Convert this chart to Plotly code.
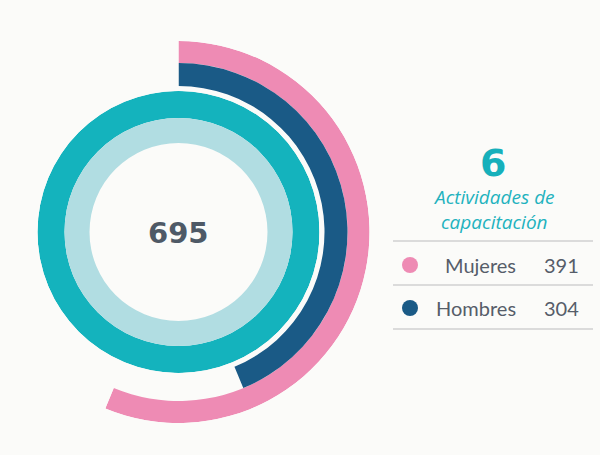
import math
import plotly.graph_objects as go

# ---- data ----
categories = ["Mujeres", "Hombres"]
values = [391, 304]
total = sum(values)
activities = 6
activities_label = ["Actividades de", "capacitación"]

colors = ["#ee8bb4", "#1a5a86"]
teal = "#14b3bd"
light = "#b1dde2"
bg = "#fbfbf9"

W, H = 600, 455
cx, cy = 178.5, 232.0

def px(x):
    return x / W

def py(y):
    return 1 - y / H

fig = go.Figure()

# ---- outer arcs (sector polar) ----
outer_R = 191
bands = [(169, 22), (146, 23)]  # (base, thickness) for Mujeres, Hombres
for cat, v, col, (b, t) in zip(categories, values, colors, bands):
    span = v / total * 360
    fig.add_trace(go.Barpolar(
        r=[t], base=[b], theta=[span / 2], width=[span],
        marker=dict(color=col, line=dict(width=0)),
        name=cat, subplot="polar2", hoverinfo="skip", showlegend=False,
    ))

# ---- inner full rings ----
fig.add_trace(go.Barpolar(r=[27], base=[114], theta=[180], width=[360],
                          marker=dict(color=teal, line=dict(width=0)),
                          subplot="polar", hoverinfo="skip", showlegend=False))
fig.add_trace(go.Barpolar(r=[25], base=[89], theta=[180], width=[360],
                          marker=dict(color=light, line=dict(width=0)),
                          subplot="polar", hoverinfo="skip", showlegend=False))

hidden_radial = dict(visible=False, showgrid=False, showline=False, showticklabels=False, ticks="")
hidden_ang = dict(visible=False, showgrid=False, showline=False, showticklabels=False, ticks="",
                  direction="clockwise", rotation=90)

sec_lo = 90 - values[0] / total * 360
left_ext = outer_R * max(0.0, -math.cos(math.radians(sec_lo)))

inner_R = 141
fig.update_layout(
    width=W, height=H,
    margin=dict(l=0, r=0, t=0, b=0),
    paper_bgcolor=bg, plot_bgcolor=bg,
    polar=dict(
        domain=dict(x=[px(cx - inner_R), px(cx + inner_R)], y=[py(cy + inner_R), py(cy - inner_R)]),
        bgcolor="rgba(0,0,0,0)",
        radialaxis=dict(range=[0, inner_R], **hidden_radial),
        angularaxis=hidden_ang,
    ),
    polar2=dict(
        domain=dict(x=[px(cx - left_ext), px(cx + outer_R)], y=[py(cy + outer_R), py(cy - outer_R)]),
        sector=[sec_lo, 90],
        bgcolor="rgba(0,0,0,0)",
        radialaxis=dict(range=[0, outer_R], **hidden_radial),
        angularaxis=hidden_ang,
    ),
)

ann = []
ann.append(dict(x=px(cx), y=py(cy + 1), xref="paper", yref="paper", text=str(total), showarrow=False,
                font=dict(family="DejaVu Sans", size=29, color="#4e5966", weight="bold"),
                xanchor="center", yanchor="middle"))
ann.append(dict(x=px(493), y=py(163), xref="paper", yref="paper", text=str(activities), showarrow=False,
                font=dict(family="DejaVu Sans", size=38, color="#16b0bb", weight="bold"),
                xanchor="center", yanchor="middle"))
for i, line in enumerate(activities_label):
    ann.append(dict(x=px(494), y=py(197 + 25 * i), xref="paper", yref="paper", text=line, showarrow=False,
                    font=dict(family="Open Sans", size=19, color="#22b2be", style="italic"),
                    xanchor="center", yanchor="middle"))

shapes = []
for yl in [241, 285, 329]:
    shapes.append(dict(type="line", xref="paper", yref="paper", x0=px(393), x1=px(593), y0=py(yl), y1=py(yl),
                       line=dict(color="#d0d0d0", width=1.5)))

row_y = [265, 308]
for cat, v, col, yr in zip(categories, values, colors, row_y):
    shapes.append(dict(type="circle", xref="paper", yref="paper", x0=px(402), x1=px(418),
                       y0=py(yr - 8), y1=py(yr + 8), fillcolor=col, line=dict(width=0)))
    ann.append(dict(x=px(518), y=py(yr), xref="paper", yref="paper", text=cat, showarrow=False,
                    font=dict(family="Lato", size=20, color="#565d69"), xanchor="right", yanchor="middle"))
    ann.append(dict(x=px(542), y=py(yr), xref="paper", yref="paper", text=str(v), showarrow=False,
                    font=dict(family="Lato", size=20, color="#565d69"), xanchor="left", yanchor="middle"))

fig.update_layout(annotations=ann, shapes=shapes)
fig.write_html(
    "out.html",
    config={"displayModeBar": False},
    post_script="document.body.style.margin='0px';document.body.style.background='%s';" % bg,
)
